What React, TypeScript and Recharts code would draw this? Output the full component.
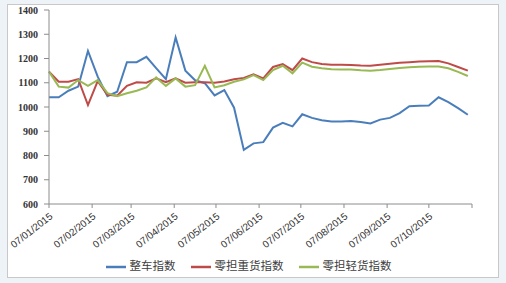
import { CartesianGrid, Legend, Line, LineChart, XAxis, YAxis } from 'recharts';

// weekly observations, 2015
const weeks = [
  '2015-01-07', '2015-01-14', '2015-01-21', '2015-01-28',
  '2015-02-04', '2015-02-11', '2015-02-18', '2015-02-25',
  '2015-03-04', '2015-03-11', '2015-03-18', '2015-03-25',
  '2015-04-01', '2015-04-08', '2015-04-15', '2015-04-22', '2015-04-29',
  '2015-05-06', '2015-05-13', '2015-05-20', '2015-05-27',
  '2015-06-03', '2015-06-10', '2015-06-17', '2015-06-24',
  '2015-07-01', '2015-07-08', '2015-07-15', '2015-07-22', '2015-07-29',
  '2015-08-05', '2015-08-12', '2015-08-19', '2015-08-26',
  '2015-09-02', '2015-09-09', '2015-09-16', '2015-09-23', '2015-09-30',
  '2015-10-07', '2015-10-14', '2015-10-21', '2015-10-28',
  '2015-11-04'
];

const truckload = [
  1040, 1040, 1067, 1084, 1231, 1125, 1045, 1063, 1185, 1185,
  1207, 1160, 1115, 1287, 1150, 1110, 1098, 1048, 1070, 997,
  823, 850, 855, 915, 935, 920, 970, 955, 945, 940,
  940, 942, 938, 932, 948, 955, 975, 1003, 1005, 1006,
  1040, 1020, 995, 968
];

const ltlHeavy = [
  1146, 1104, 1104, 1115, 1008, 1107, 1050, 1047, 1087, 1102,
  1100, 1118, 1102, 1118, 1100, 1102, 1102, 1100, 1105, 1114,
  1120, 1135, 1118, 1165, 1177, 1152, 1200, 1185, 1177, 1174,
  1174, 1173, 1171, 1170, 1174, 1178, 1182, 1185, 1188, 1189,
  1190, 1180, 1165, 1150
];

const ltlLight = [
  1146, 1084, 1080, 1111, 1087, 1111, 1057, 1045, 1057, 1067,
  1081, 1122, 1087, 1118, 1084, 1090, 1170, 1081, 1090, 1104,
  1114, 1132, 1111, 1152, 1170, 1139, 1183, 1166, 1160, 1156,
  1155, 1155, 1152, 1150, 1153, 1157, 1161, 1164, 1166, 1167,
  1167, 1160, 1145, 1128
];

const tickDates = [
  '2015-01-07', '2015-02-07', '2015-03-07', '2015-04-07', '2015-05-07', '2015-06-07',
  '2015-07-07', '2015-08-07', '2015-09-07', '2015-10-07', '2015-11-07'
];
const tickLabels = [
  '07/01/2015', '07/02/2015', '07/03/2015', '07/04/2015', '07/05/2015', '07/06/2015',
  '07/07/2015', '07/08/2015', '07/09/2015', '07/10/2015', ''
];
const yTicks = [600, 700, 800, 900, 1000, 1100, 1200, 1300, 1400];

const seriesNames = ['整车指数', '零担重货指数', '零担轻货指数'];

const data = weeks.map((d, i) => ({
  t: Date.parse(d),
  s1: truckload[i],
  s2: ltlHeavy[i],
  s3: ltlLight[i]
}));

const tickValues = tickDates.map((d) => Date.parse(d));
const labelFor = (v: number) => tickLabels[tickValues.indexOf(v)] ?? '';

const AXIS = '#8c8c8c';

export default function App() {
  return (
    <div style={{ position: 'absolute', left: 0, top: 0, width: 506, height: 283, background: '#eef3f8' }}>
      <div
        style={{
          position: 'absolute',
          left: 7,
          top: 4,
          width: 490,
          height: 272,
          background: '#fff',
          border: '1px solid #c8c8c8'
        }}
      />
      <div style={{ position: 'absolute', left: 0, top: 0 }}>
        <LineChart width={506} height={283} data={data} margin={{ top: 10, right: 34, left: 0, bottom: 6 }}>
          <CartesianGrid horizontal={false} vertical={false} />
          <XAxis
            dataKey="t"
            type="number"
            domain={[tickValues[0], tickValues[tickValues.length - 1]]}
            ticks={tickValues}
            tickFormatter={labelFor}
            interval={0}
            height={53}
            angle={-38}
            textAnchor="end"
            tickSize={4}
            tickMargin={4}
            stroke={AXIS}
            tick={{ fill: '#333', fontSize: 10, fontFamily: 'Liberation Sans' }}
          />
          <YAxis
            domain={[600, 1400]}
            ticks={yTicks}
            interval={0}
            width={49}
            tickSize={5}
            tickMargin={6}
            stroke={AXIS}
            tick={{ fill: '#333', fontSize: 10, fontWeight: 'bold', fontFamily: 'Liberation Serif' }}
          />
          <Legend
            verticalAlign="bottom"
            iconType="plainline"
            iconSize={20}
            itemSorter="dataKey"
            wrapperStyle={{ left: 20, width: 472, fontSize: 11.5, fontFamily: 'Noto Sans CJK SC', color: '#333' }}
            formatter={(value) => <span style={{ color: '#404040', marginRight: 5 }}>{value}</span>}
          />
          <Line dataKey="s1" name={seriesNames[0]} stroke="#4a7ebb" strokeWidth={2} dot={false} type="linear" isAnimationActive={false} />
          <Line dataKey="s2" name={seriesNames[1]} stroke="#be4b48" strokeWidth={2} dot={false} type="linear" isAnimationActive={false} />
          <Line dataKey="s3" name={seriesNames[2]} stroke="#98b954" strokeWidth={2} dot={false} type="linear" isAnimationActive={false} />
        </LineChart>
      </div>
    </div>
  );
}
